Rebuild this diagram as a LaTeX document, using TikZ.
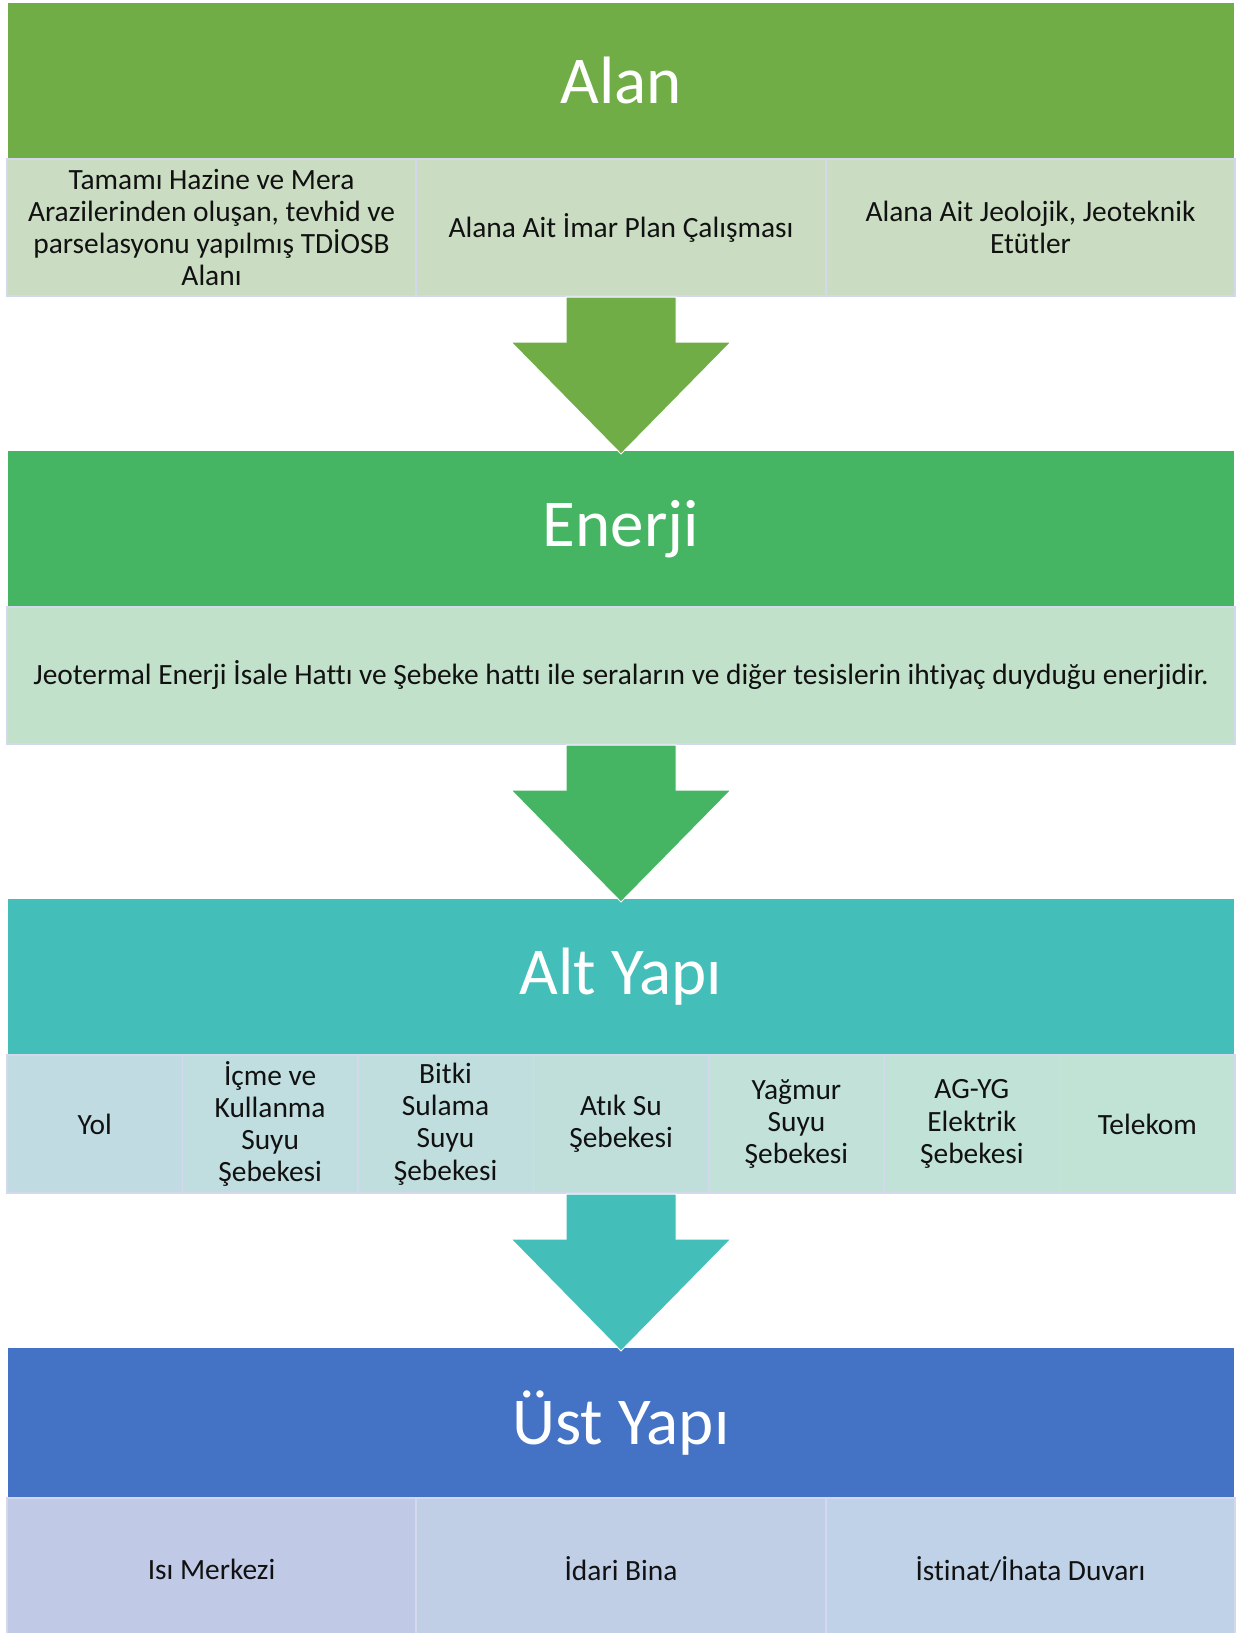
\documentclass[tikz,border=0pt]{standalone}
\usepackage{fontspec}
\setmainfont{Carlito}[Ligatures={NoCommon,NoRare,NoContextual}]
\usetikzlibrary{calc}
\definecolor{alanH}{HTML}{70AD47}
\definecolor{alanC}{HTML}{CADDC2}
\definecolor{enerH}{HTML}{45B563}
\definecolor{enerC}{HTML}{C2E1CA}
\definecolor{altH}{HTML}{43BEB8}
\definecolor{altL}{HTML}{C0DCE2}
\definecolor{altR}{HTML}{C1E3D5}
\definecolor{ustH}{HTML}{4472C4}
\definecolor{ustA}{HTML}{C0C9E6}
\definecolor{ustB}{HTML}{C0CEE6}
\definecolor{ustC}{HTML}{C0D2E8}
\definecolor{cellline}{HTML}{D4D8EC}
\definecolor{txt}{HTML}{111111}
\colorlet{altA}{altL}
\colorlet{altB}{altL!83!altR}
\colorlet{altCc}{altL!67!altR}
\colorlet{altD}{altL!50!altR}
\colorlet{altE}{altL!33!altR}
\colorlet{altF}{altL!17!altR}
\colorlet{altG}{altR}
\tikzset{
  hdr/.style={rectangle, fill=#1, inner sep=0pt, outer sep=0pt,
    minimum width=1226pt, text=white, font=\fontsize{67}{80}\selectfont},
  cellbox/.style={rectangle, fill=#1, draw=cellline, line width=1.5pt,
    inner sep=0pt, outer sep=0pt, align=center, text=txt,
    font=\fontsize{29.4}{32.3}\selectfont},
  blockarrowstyle/.style={fill=#1, draw=white, line width=1pt, line join=miter},
}
\newcommand{\blockarrow}[3]{%
  \filldraw[blockarrowstyle=#3]
    ($(#1)+(-55,1)$) -- ($(#1)+(55,1)$) -- ($(#1)+(55,46)$) --
    ($(#1)+(110,46)$) -- (#2) -- ($(#1)+(-110,46)$) --
    ($(#1)+(-55,46)$) -- cycle;}
\begin{document}
\begin{tikzpicture}[x=1pt,y=-1pt]
\useasboundingbox (0,0) rectangle (1237,1633);
\fill[white] (0,0) rectangle (1237,1633);

% ---------- Alan ----------
\node[hdr=alanH, minimum height=156pt] (alan) at (621,81) {\raisebox{2pt}{Alan}};
\node[cellbox=alanC, minimum width=409pt, minimum height=137pt] (a1) at (211.5,227.5)
  {Tamamı Hazine ve Mera\\Arazilerinden oluşan, tevhid ve\\parselasyonu yapılmış TDİOSB\\Alanı};
\node[cellbox=alanC, minimum width=410pt, minimum height=137pt] (a2) at (621,227.5)
  {Alana Ait İmar Plan Çalışması};
\node[cellbox=alanC, minimum width=409pt, minimum height=137pt] (a3) at (1030.5,227.5)
  {Alana Ait Jeolojik, Jeoteknik\\Etütler};

% ---------- Enerji ----------
\node[hdr=enerH, minimum height=156pt] (enerji) at (621,529) {Enerji};
\node[cellbox=enerC, minimum width=1228pt, minimum height=137pt] (e1) at (621,675.5)
  {Jeotermal Enerji İsale Hattı ve Şebeke hattı ile seraların ve diğer tesislerin ihtiyaç duyduğu enerjidir.};

% ---------- Alt Yapi ----------
\node[hdr=altH, minimum height=156pt] (alt) at (621,977) {Alt Yapı};
\node[cellbox=altA, minimum width=175.43pt, minimum height=138pt] (y1) at (94.71,1124) {Yol};
\node[cellbox=altB, minimum width=175.43pt, minimum height=138pt] (y2) at (270.14,1124) {İçme ve\\Kullanma\\Suyu\\Şebekesi};
\node[cellbox=altCc, minimum width=175.43pt, minimum height=138pt] (y3) at (445.57,1124) {Bitki\\Sulama\\Suyu\\Şebekesi};
\node[cellbox=altD, minimum width=175.43pt, minimum height=138pt] (y4) at (621,1124) {Atık Su\\Şebekesi};
\node[cellbox=altE, minimum width=175.43pt, minimum height=138pt] (y5) at (796.43,1124) {Yağmur\\Suyu\\Şebekesi};
\node[cellbox=altF, minimum width=175.43pt, minimum height=138pt] (y6) at (971.86,1124) {AG-YG\\Elektrik\\Şebekesi};
\node[cellbox=altG, minimum width=175.43pt, minimum height=138pt] (y7) at (1147.29,1124) {Telekom};

% ---------- Ust Yapi ----------
\node[hdr=ustH, minimum height=150pt] (ust) at (621,1423) {Üst Yapı};
\node[cellbox=ustA, minimum width=409pt, minimum height=142pt] (u1) at (211.5,1569) {Isı Merkezi};
\node[cellbox=ustB, minimum width=410pt, minimum height=142pt] (u2) at (621,1569) {İdari Bina};
\node[cellbox=ustC, minimum width=409pt, minimum height=142pt] (u3) at (1030.5,1569) {İstinat/İhata Duvarı};

% ---------- arrows ----------
\coordinate (t1) at (alan.center |- a2.south);
\coordinate (p1) at ($(enerji.north)+(0,3)$);
\blockarrow{t1}{p1}{alanH}
\coordinate (t2) at (enerji.center |- e1.south);
\coordinate (p2) at ($(alt.north)+(0,3)$);
\blockarrow{t2}{p2}{enerH}
\coordinate (t3) at (alt.center |- y4.south);
\coordinate (p3) at ($(ust.north)+(0,3)$);
\blockarrow{t3}{p3}{altH}
\end{tikzpicture}
\end{document}
